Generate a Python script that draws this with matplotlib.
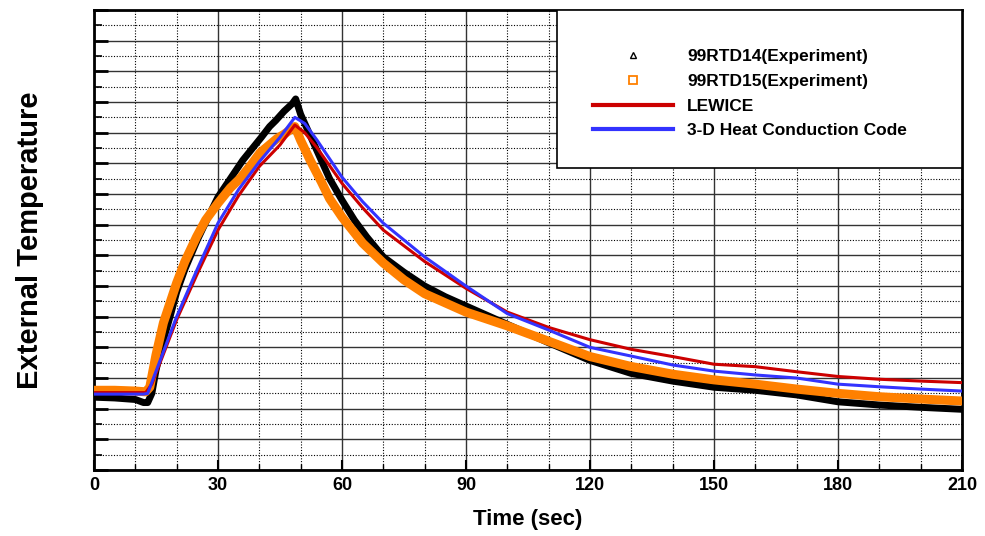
import numpy as np
import matplotlib.pyplot as plt
from matplotlib.lines import Line2D
from matplotlib.patches import Rectangle

plt.rcParams['font.family'] = ['Liberation Sans', 'DejaVu Sans']

# 99RTD14 (experiment)
t_rtd14 = [0, 5, 10, 12, 13, 14, 15, 16.5, 18.4, 20, 22, 25, 28, 30, 33, 36, 39, 40.5,
           42.5, 44, 46, 48, 48.8, 50, 52, 54, 57, 60, 63, 66, 70, 75, 80, 85, 90, 95,
           100, 110, 120, 130, 140, 150, 160, 170, 180, 190, 200, 210]
v_rtd14 = [4.75, 4.7, 4.6, 4.4, 4.4, 5.0, 6.5, 8.2, 10.0, 11.6, 13.1, 15.0, 16.7, 17.8, 19.0,
           20.2, 21.2, 21.7, 22.4, 22.8, 23.4, 23.9, 24.2, 23.2, 22.0, 20.8, 19.0, 17.6,
           16.3, 15.2, 13.9, 12.9, 12.0, 11.3, 10.7, 10.1, 9.5, 8.3, 7.15, 6.3, 5.8, 5.4,
           5.2, 4.9, 4.45, 4.24, 4.09, 3.96]

# 99RTD15 (experiment)
t_rtd15 = [0, 5, 10, 12.5, 13.5, 15, 16.8, 20, 22, 24.8, 27, 30, 33, 35.3, 38, 40.2, 42,
           44.2, 46, 48.6, 50, 52.3, 55, 57, 60, 65, 70, 75, 80, 85, 90, 100, 110, 120,
           130, 140, 150, 160, 170, 180, 190, 200, 210]
v_rtd15 = [5.2, 5.2, 5.15, 5.1, 5.4, 7.5, 9.6, 12.2, 13.6, 15.2, 16.3, 17.4, 18.4, 19.0, 19.9,
           20.7, 21.1, 21.6, 21.9, 22.4, 21.5, 20.2, 18.8, 17.7, 16.5, 14.8, 13.5, 12.4,
           11.5, 10.9, 10.3, 9.4, 8.4, 7.4, 6.75, 6.25, 5.88, 5.6, 5.28, 5.0, 4.78, 4.63, 4.5]

# LEWICE
t_lewice = [0, 12.5, 14, 20, 25, 30, 35, 40, 45, 48.6, 51, 54, 60, 65, 70, 80, 90, 100,
            110, 120, 130, 140, 150, 160, 170, 180, 190, 200, 210]
v_lewice = [5.05, 5.05, 5.6, 9.8, 12.8, 15.65, 17.9, 19.8, 21.2, 22.5, 22.0, 21.0, 18.7, 17.1,
            15.65, 13.6, 11.85, 10.3, 9.3, 8.5, 7.87, 7.4, 6.9, 6.74, 6.41, 6.1, 5.92, 5.8, 5.7]

# 3-D Heat Conduction Code
t_heat = [0, 12, 13, 20, 25, 30, 35, 40, 45, 48.6, 51, 54, 60, 65, 70, 80, 90, 100, 110,
          120, 130, 140, 150, 160, 170, 180, 190, 200, 210]
v_heat = [4.95, 4.95, 5.0, 10.0, 13.1, 16.1, 18.3, 20.1, 21.7, 23.0, 22.6, 21.5, 19.1, 17.5,
          16.1, 13.9, 12.0, 10.2, 9.13, 8.0, 7.43, 6.85, 6.45, 6.2, 6.0, 5.6, 5.43, 5.28, 5.15]

x_ticks = [0, 30, 60, 90, 120, 150, 180, 210]

fig = plt.figure(figsize=(9.85, 5.36), dpi=100)
ax = fig.add_axes([0.0954, 0.1231, 0.8812, 0.8582])

ax.set_xlim(0, 210)
ax.set_ylim(0, 30)
ax.set_xticks(x_ticks)
ax.set_xticks(np.arange(0, 211, 10), minor=True)
ax.set_yticks(np.arange(0, 31, 2))
ax.set_yticks(np.arange(1, 30, 2), minor=True)
ax.set_yticklabels([])
ax.grid(which='major', color='#333333', linestyle='-', linewidth=1.0)
ax.grid(which='minor', color='black', linestyle=(0, (1, 1.5)), linewidth=0.8)
ax.set_axisbelow(True)
ax.tick_params(which='major', direction='in', length=7, width=1.5, labelsize=13, pad=5)
ax.tick_params(which='minor', direction='in', length=4, width=1.0)
ax.tick_params(axis='y', which='major', length=10, width=2)
ax.tick_params(axis='y', which='minor', length=6, width=1.2)
for sp in ax.spines.values():
    sp.set_linewidth(2)

# experiments: dense markers form thick bands
ax.plot(t_rtd14, v_rtd14, color='black', lw=5, solid_capstyle='round', zorder=3)
ax.plot(t_rtd15, v_rtd15, color='#ff8000', lw=6.5, solid_capstyle='round', zorder=4)
ax.plot(t_lewice, v_lewice, color='#cc0000', lw=2.2, zorder=5)
ax.plot(t_heat, v_heat, color='#3333ff', lw=2.2, zorder=6)

ax.set_xlabel('Time (sec)', fontsize=16, fontweight='bold', labelpad=11)
ax.set_ylabel('External Temperature', fontsize=21, fontweight='bold', labelpad=31)
for lab in ax.get_xticklabels():
    lab.set_fontweight('bold')

# legend box
ax.add_patch(Rectangle((0.533, 0.657), 0.467, 0.343, transform=ax.transAxes,
                       facecolor='white', edgecolor='black', lw=1.2, zorder=10))
handles = [
    Line2D([], [], ls='none', marker='^', ms=5, mfc='white', mec='black'),
    Line2D([], [], ls='none', marker='s', ms=6, mfc='white', mec='#ff8000', mew=1.3),
    Line2D([], [], color='#cc0000', lw=3),
    Line2D([], [], color='#3333ff', lw=3),
]
labels = ['99RTD14(Experiment)', '99RTD15(Experiment)', 'LEWICE', '3-D Heat Conduction Code']
leg = ax.legend(handles, labels, loc='center', bbox_to_anchor=(0.756, 0.818), frameon=False,
                prop={'weight': 'bold', 'size': 12.5}, handlelength=4.6, handletextpad=0.8,
                labelspacing=0.55, borderpad=0)
leg.set_zorder(11)

plt.savefig('out.png', dpi=100)
